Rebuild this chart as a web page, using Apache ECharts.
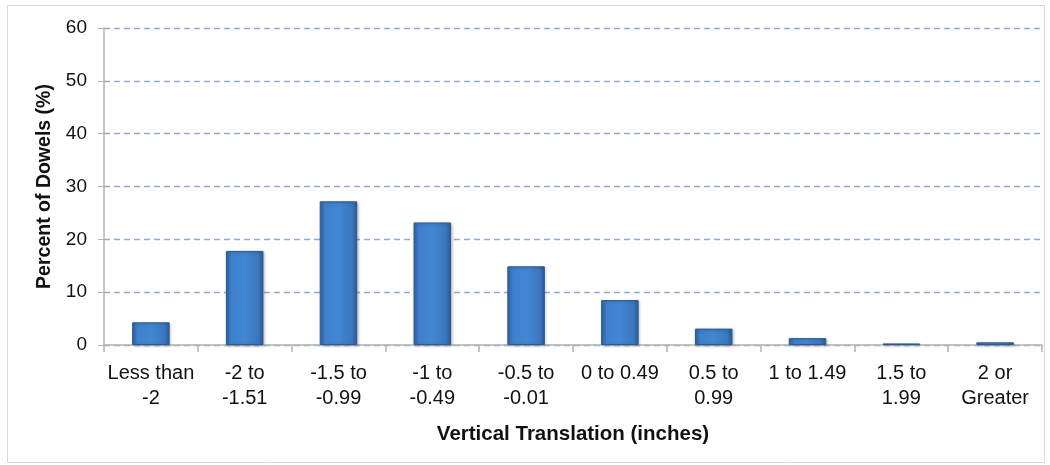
<!DOCTYPE html>
<html><head><meta charset="utf-8">
<script src="https://cdn.jsdelivr.net/npm/echarts@6/dist/echarts.min.js"></script>
<style>html,body{margin:0;padding:0;background:#fff}#c{width:1050px;height:465px}</style>
</head><body><div id="c"></div>
<script>
const categories = ['Less than\n-2','-2 to\n-1.51','-1.5 to\n-0.99','-1 to\n-0.49','-0.5 to\n-0.01','0 to 0.49','0.5 to\n0.99','1 to 1.49','1.5 to\n1.99','2 or\nGreater'];
const percentValues = [4.3, 17.8, 27.2, 23.2, 14.9, 8.5, 3.1, 1.3, 0.3, 0.5];
const yTicks = [0, 10, 20, 30, 40, 50, 60];

const chart = echarts.init(document.getElementById('c'));
const font = '"Liberation Sans", Arial, sans-serif';
chart.setOption({
  animation: false,
  graphic: [{type:'rect', shape:{x:7.5,y:5.5,width:1037,height:457}, style:{fill:'none', stroke:'#d9d9d9', lineWidth:1}}],
  grid: {left: 104, right: 8, top: 28, bottom: 120},
  xAxis: {
    type: 'category', data: categories,
    name: 'Vertical Translation (inches)', nameLocation: 'middle', nameGap: 79,
    nameTextStyle: {fontFamily: font, fontSize: 20.5, fontWeight: 'bold', color: '#111'},
    axisLine: {lineStyle: {color: '#b3b3b3', width: 1.5}},
    axisTick: {show: true, length: 7, lineStyle: {color: '#b3b3b3', width: 1.5}},
    axisLabel: {fontFamily: font, fontSize: 20, color: '#111', lineHeight: 25, margin: 16, interval: 0}
  },
  yAxis: {
    type: 'value', min: 0, max: 60, interval: 10,
    name: 'Percent of Dowels (%)', nameLocation: 'middle', nameGap: 47,
    nameTextStyle: {fontFamily: font, fontSize: 19.5, fontWeight: 'bold', color: '#111'},
    axisLine: {show: true, lineStyle: {color: '#b3b3b3', width: 1.5}},
    axisTick: {show: true, length: 6, lineStyle: {color: '#b3b3b3'}},
    axisLabel: {fontFamily: font, fontSize: 19, color: '#111', margin: 17,
      formatter: v => yTicks.includes(v) ? String(v) : ''},
    splitLine: {show: true, lineStyle: {color: '#8eaad6', type: [6, 4], width: 1.3}}
  },
  series: [{
    type: 'bar', data: percentValues, barWidth: '40%',
    itemStyle: {
      color: new echarts.graphic.LinearGradient(0, 0, 1, 0, [
        {offset: 0, color: '#2f66aa'}, {offset: 0.15, color: '#3f80cc'},
        {offset: 0.5, color: '#4286d2'}, {offset: 0.85, color: '#3a78c0'}, {offset: 1, color: '#2a5b98'}
      ]),
      borderColor: '#2c5a92', borderWidth: 1,
      shadowColor: 'rgba(0,0,0,0.25)', shadowBlur: 3, shadowOffsetX: 1, shadowOffsetY: 1
    }
  }]
});
</script></body></html>
